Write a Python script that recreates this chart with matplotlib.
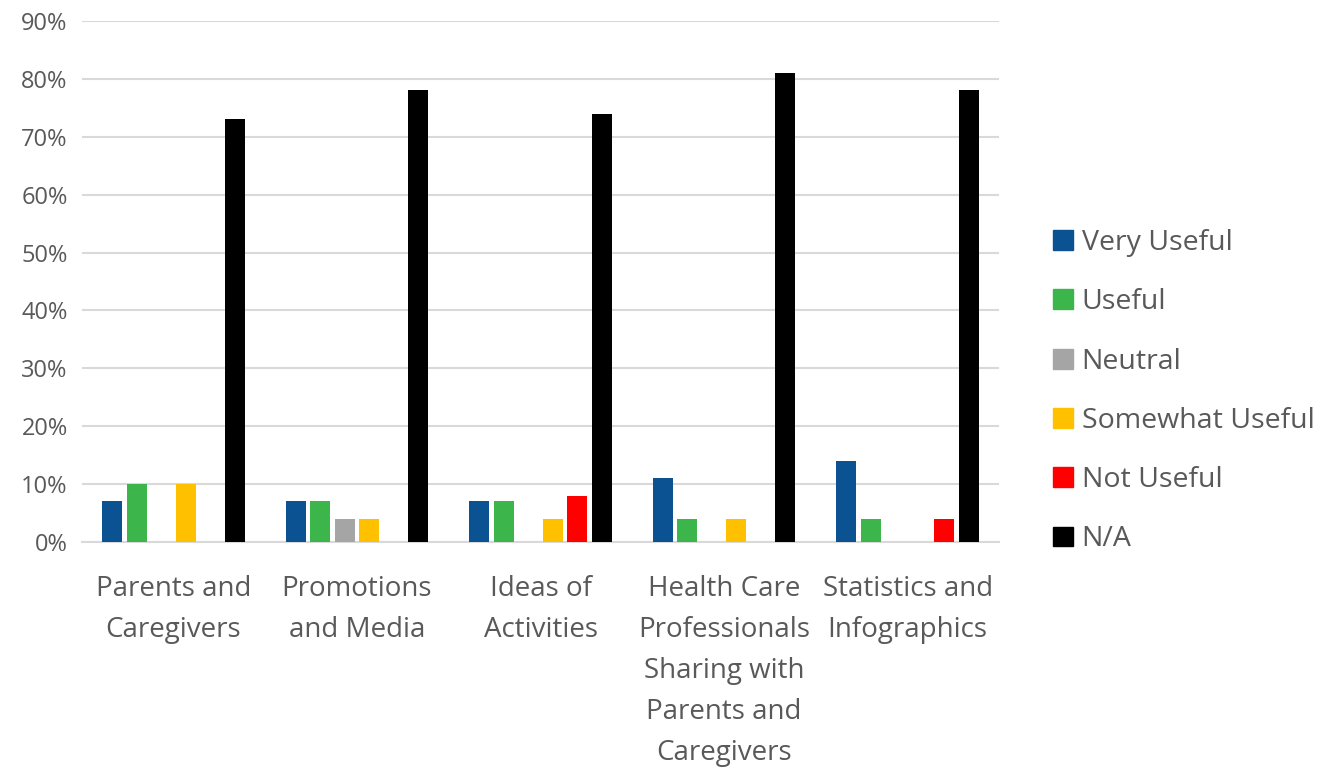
import numpy as np
import matplotlib.pyplot as plt
from matplotlib.patches import Patch
from matplotlib.ticker import PercentFormatter

plt.rcParams['font.family'] = ['Open Sans', 'DejaVu Sans']

# data (percent)
categories = ['Parents and\nCaregivers', 'Promotions\nand Media', 'Ideas of\nActivities',
              'Health Care\nProfessionals\nSharing with\nParents and\nCaregivers',
              'Statistics and\nInfographics']
series = ['Very Useful', 'Useful', 'Neutral', 'Somewhat Useful', 'Not Useful', 'N/A']
very_useful = [7, 7, 7, 11, 14]
useful = [10, 7, 7, 4, 4]
neutral = [0, 4, 0, 0, 0]
somewhat_useful = [10, 4, 4, 4, 0]
not_useful = [0, 0, 8, 0, 4]
na = [73, 78, 74, 81, 78]
colors = ['#0A5292', '#3CB54A', '#A5A5A5', '#FFC000', '#FF0000', '#000000']

values = [very_useful, useful, neutral, somewhat_useful, not_useful, na]

fig = plt.figure(figsize=(13.38, 7.67), dpi=100)
ax = fig.add_axes([0.061, 0.2934, 0.686, 0.6792])

x = np.arange(len(categories))
pitch = 0.1334
width = 0.109
for i, (vals, col) in enumerate(zip(values, colors)):
    ax.bar(x + (i - 2.5) * pitch, vals, width, color=col, zorder=3)

ax.set_xlim(-0.5, len(categories) - 0.5)
ax.set_ylim(0, 90)
ax.set_yticks(np.arange(0, 91, 10))
ax.yaxis.set_major_formatter(PercentFormatter(decimals=0))
ax.grid(axis='y', color='#D9D9D9', linewidth=1.5, zorder=0)
for s in ['top', 'right', 'left']:
    ax.spines[s].set_visible(False)
ax.spines['bottom'].set_color('#D9D9D9')
ax.spines['bottom'].set_linewidth(1.5)
ax.tick_params(axis='both', length=0, colors='#595959')
ax.tick_params(axis='y', labelsize=17, pad=10)
ax.set_xticks(x)
ax.set_xticklabels(categories, fontsize=20, linespacing=1.62)
ax.tick_params(axis='x', pad=24)

handles = [Patch(color=c, label=s) for s, c in zip(series, colors)]
leg = fig.legend(handles=handles, loc='center left', bbox_to_anchor=(0.768, 0.49),
                 frameon=False, fontsize=20.5, labelspacing=1.1,
                 handlelength=0.7, handleheight=0.7, handletextpad=0.3)
for t in leg.get_texts():
    t.set_color('#595959')

fig.savefig('out.png', dpi=100)
